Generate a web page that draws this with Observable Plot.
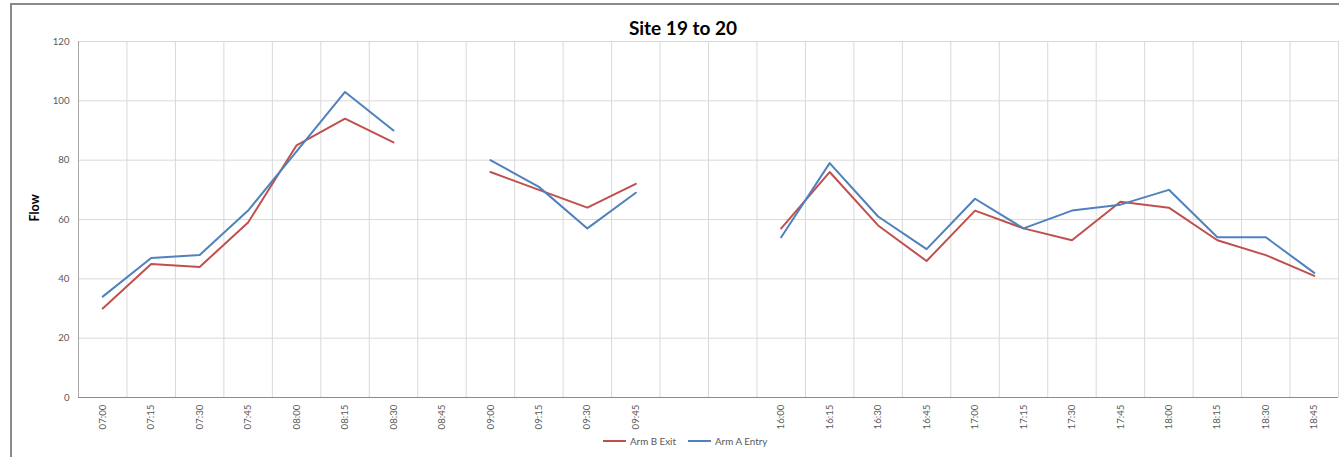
<!DOCTYPE html>
<html>
<head>
<meta charset="utf-8">
<script src="https://cdn.jsdelivr.net/npm/d3@7"></script>
<script src="https://cdn.jsdelivr.net/npm/@observablehq/plot@0.6"></script>
<style>
  html, body { margin: 0; padding: 0; background: #fff; overflow: hidden; }
  #wrap { position: relative; width: 1339px; height: 457px; overflow: hidden; font-family: Lato, "Liberation Sans", sans-serif; }
  #frame { position: absolute; left: 10px; top: 3px; width: 1400px; height: 520px; border: 2px solid #8a8a8a; box-sizing: border-box; }
  #title { position: absolute; left: 0; width: 1366px; top: 16px; text-align: center; font-weight: bold; font-size: 19px; color: #000; }
  #chart { position: absolute; left: 0; top: 0; }
  #legend { position: absolute; top: 435px; left: 603px; display: flex; align-items: center; font-size: 9.8px; color: #595959; white-space: nowrap; }
  .sw { display: inline-block; width: 23px; height: 2px; margin-right: 4px; }
  .item { display: flex; align-items: center; margin-right: 12px; }
</style>
</head>
<body>
<div id="wrap">
  <div id="frame"></div>
  <div id="chart"></div>
  <div id="title">Site 19 to 20</div>
  <div id="legend"></div>
</div>
<script>
const categories = ["07:00","07:15","07:30","07:45","08:00","08:15","08:30","08:45","09:00","09:15","09:30","09:45","gapA","gapB","16:00","16:15","16:30","16:45","17:00","17:15","17:30","17:45","18:00","18:15","18:30","18:45"];
const armBExit  = [30,45,44,59,85,94,86,null,76,70,64,72,null,null,57,76,58,46,63,57,53,66,64,53,48,41];
const armAEntry = [34,47,48,63,83,103,90,null,80,71,57,69,null,null,54,79,61,50,67,57,63,65,70,54,54,42];
const yTicks = [0,20,40,60,80,100,120];
const seriesNames = ["Arm B Exit","Arm A Entry"];
const seriesColors = ["#C0504D","#4F81BD"];

const W = 1339, H = 457, mL = 78, mR = 1, mT = 41, mB = 60;
const step = (W - mL - mR) / categories.length;

const rowsB = categories.map((c, i) => ({t: c, v: armBExit[i]}));
const rowsA = categories.map((c, i) => ({t: c, v: armAEntry[i]}));

const chart = Plot.plot({
  width: W, height: H,
  marginLeft: mL, marginRight: mR, marginTop: mT, marginBottom: mB,
  style: {fontFamily: "Lato, 'Liberation Sans', sans-serif", fontSize: "9.7px", color: "#595959", background: "transparent"},
  x: {type: "point", domain: categories, padding: 0.5, align: 0.5, round: false},
  y: {domain: [0, 120]},
  marks: [
    Plot.ruleY(yTicks.filter(d => d > 0), {stroke: "#d9d9d9", strokeWidth: 1}),
    Plot.ruleX(categories, {x: d => d, dx: step / 2, stroke: "#d9d9d9", strokeWidth: 1}),
    Plot.ruleX([categories[0]], {x: d => d, dx: -step / 2, stroke: "#a6a6a6", strokeWidth: 1}),
    Plot.ruleY([0], {stroke: "#8c8c8c", strokeWidth: 1.2}),
    Plot.axisY({ticks: yTicks, tickSize: 0, tickPadding: 9, label: null, fill: "#595959", fontSize: 9.7}),
    Plot.axisX({tickSize: 0, tickPadding: 7, tickRotate: -90, label: null, tickFormat: d => d.startsWith("gap") ? "" : d, fill: "#595959", fontSize: 9.7}),
    Plot.text(["Flow"], {frameAnchor: "left", dx: -44, dy: 2, rotate: -90, text: d => d, fontWeight: "bold", fontSize: 12.5, fill: "#000"}),
    Plot.line(rowsB, {x: "t", y: "v", stroke: seriesColors[0], strokeWidth: 2}),
    Plot.line(rowsA, {x: "t", y: "v", stroke: seriesColors[1], strokeWidth: 2})
  ]
});
document.getElementById("chart").appendChild(chart);

const legend = document.getElementById("legend");
seriesNames.forEach((n, i) => {
  const it = document.createElement("div");
  it.className = "item";
  const sw = document.createElement("span");
  sw.className = "sw";
  sw.style.background = seriesColors[i];
  it.appendChild(sw);
  const tx = document.createElement("span");
  tx.textContent = n;
  it.appendChild(tx);
  legend.appendChild(it);
});
</script>
</body>
</html>
